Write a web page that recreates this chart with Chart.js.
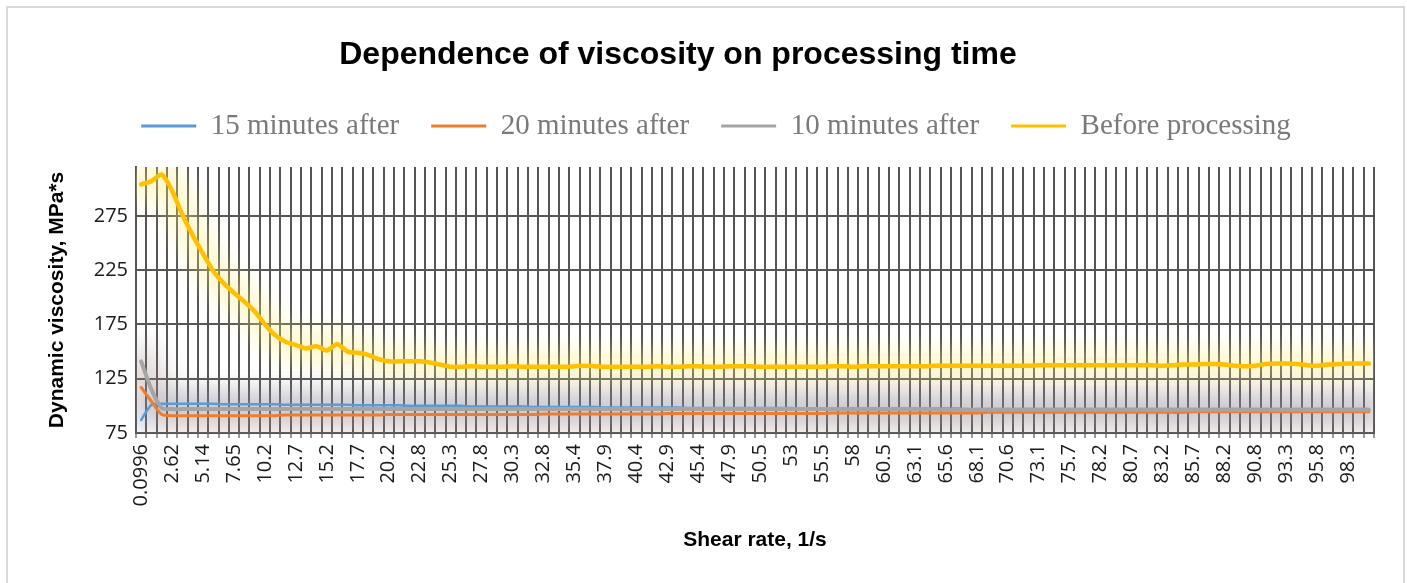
<!DOCTYPE html>
<html>
<head>
<meta charset="utf-8">
<title>Dependence of viscosity on processing time</title>
<script src="https://cdn.jsdelivr.net/npm/chart.js@4.4.1/dist/chart.umd.min.js"></script>
<style>
  html, body { margin: 0; padding: 0; width: 1407px; height: 583px; overflow: hidden; background: #fff; }
  #frame { position: absolute; left: 6px; top: 6px; width: 1395px; height: 640px; border: 2px solid #d9d9d9; }
  #wrap { position: absolute; left: 0; top: 0; width: 1407px; height: 583px; }
</style>
</head>
<body>
<div id="frame"></div>
<div id="wrap"><canvas id="chart" width="1407" height="583"></canvas></div>
<script>
// shear rate categories (only every third one is labelled on the axis)
const shearRate = [
  '0.0996', '0.939', '1.78', '2.62', '3.46', '4.3', '5.14', '5.98', '6.82', '7.65',
  '8.49', '9.33', '10.2', '11', '11.9', '12.7', '13.5', '14.4', '15.2', '16',
  '16.9', '17.7', '18.6', '19.4', '20.2', '21.1', '21.9', '22.8', '23.6', '24.4',
  '25.3', '26.1', '27', '27.8', '28.6', '29.5', '30.3', '31.2', '32', '32.8',
  '33.7', '34.5', '35.4', '36.2', '37', '37.9', '38.7', '39.6', '40.4', '41.2',
  '42.1', '42.9', '43.8', '44.6', '45.4', '46.3', '47.1', '47.9', '48.8', '49.6',
  '50.5', '51.3', '52.1', '53', '53.8', '54.7', '55.5', '56.3', '57.2', '58',
  '58.9', '59.7', '60.5', '61.4', '62.2', '63.1', '63.9', '64.7', '65.6', '66.4',
  '67.3', '68.1', '68.9', '69.8', '70.6', '71.5', '72.3', '73.1', '74', '74.8',
  '75.7', '76.5', '77.3', '78.2', '79', '79.9', '80.7', '81.5', '82.4', '83.2',
  '84.1', '84.9', '85.7', '86.6', '87.4', '88.2', '89.1', '89.9', '90.8', '91.6',
  '92.5', '93.3', '94.1', '95', '95.8', '96.7', '97.5', '98.3', '99.2', '100'
];

const min15 = [
  87, 101, 102, 102, 102, 102, 102, 102, 101.5, 101.5,
  101.5, 101.5, 101.5, 101.5, 101, 101, 101, 101, 101, 101,
  101, 100.5, 100.5, 100.5, 100.5, 100.5, 100, 100, 100, 100,
  100, 100, 99.5, 99.5, 99.5, 99.5, 99.5, 99.5, 99, 99,
  99, 99, 99, 99, 99, 98.5, 98.5, 98.5, 98.5, 98.5,
  98.5, 98.5, 98.5, 98, 98, 98, 98, 98, 98, 98,
  98, 98, 98, 98, 97.5, 97.5, 97.5, 97.5, 97.5, 97.5,
  97.5, 97.5, 97.5, 97.5, 97.5, 97.5, 97.5, 97.5, 97.5, 97.5,
  97, 97, 97, 97, 97, 97, 97, 97, 97, 97,
  97, 97, 97, 97, 97, 97, 97, 97, 97, 97,
  97, 97, 97, 97, 97, 97, 97, 97, 97, 97,
  97, 97, 97, 97, 97, 97, 97, 97, 97, 97
];

const min20 = [
  117, 104, 92, 91, 91, 91, 91, 91, 91, 91,
  91, 91, 91, 91, 91.5, 91.5, 91.5, 91.5, 91.5, 91.5,
  91.5, 91.5, 91.5, 91.5, 92, 92, 92, 92, 92, 92,
  92, 92, 92, 92, 92, 92, 92, 92, 92, 92.5,
  92.5, 92.5, 92.5, 92.5, 92.5, 92.5, 92.5, 92.5, 92.5, 92.5,
  92.5, 93, 93, 93, 93, 93, 93, 93, 93, 93,
  93, 93, 93, 93, 93, 93, 93, 93.5, 93.5, 93.5,
  93.5, 93.5, 93.5, 93.5, 93.5, 93.5, 93.5, 93.5, 93.5, 93.5,
  93.5, 93.5, 94, 94, 94, 94, 94, 94, 94, 94,
  94, 94, 94, 94, 94, 94, 94, 94, 94, 94,
  94, 94, 94.5, 94.5, 94.5, 94.5, 94.5, 94.5, 94.5, 94.5,
  94.5, 94.5, 94.5, 94.5, 94.5, 94.5, 94.5, 94.5, 94.5, 94.5
];

const min10 = [
  141, 115, 98, 97, 97, 97, 97, 97, 97, 97,
  97, 97, 97, 97, 97, 97, 97, 97, 97, 97,
  97, 97, 97, 97, 97, 97, 97, 97, 97, 97,
  97, 97, 97, 97, 97, 97, 97, 97, 97, 97,
  97, 97, 97, 97, 97, 97, 97, 97, 97, 97,
  97, 97, 97, 97, 97, 97, 97, 97, 97, 97,
  97, 97, 97, 97, 97, 97, 97, 97, 97, 97,
  97, 97, 97, 97, 97, 97, 97, 97, 96.5, 96.5,
  96.5, 96.5, 96.5, 96.5, 96.5, 96.5, 96.5, 96.5, 96.5, 96.5,
  96.5, 96.5, 96.5, 96.5, 96.5, 96.5, 96.5, 96.5, 96.5, 96.5,
  96.5, 96.5, 96.5, 96.5, 96.5, 96.5, 96.5, 96.5, 96.5, 96.5,
  96.5, 96.5, 96.5, 96.5, 96.5, 96.5, 96.5, 96.5, 96.5, 96.5
];

const beforeProc = [
  304, 307, 313, 298, 276, 257, 240, 224, 213, 204,
  196, 187, 175, 165, 159, 156, 153, 155, 151, 157,
  150, 149, 147, 143, 141, 141, 141, 141, 140, 138,
  136, 136, 136.5, 136, 136, 136, 136.5, 136, 136, 136,
  136, 136, 136.5, 137, 136.5, 136, 136, 136, 136, 136,
  136.5, 136, 136, 136.5, 136.5, 136, 136, 136.5, 136.5, 136.5,
  136, 136, 136, 136, 136, 136, 136, 136.5, 136.5, 136,
  136.5, 136.5, 136.5, 136.5, 136.5, 136.5, 136.5, 137, 137, 137,
  137, 137, 137, 137, 137, 137, 137, 137.5, 137.5, 137.5,
  137.5, 137.5, 137.5, 137.5, 137.5, 137.5, 137.5, 137.5, 137.5, 137,
  137.5, 138, 138, 138.5, 138.5, 138, 137, 136.5, 137, 138.5,
  139, 139, 138.5, 137.5, 137, 138, 138.5, 139, 139, 139
];

const yTicks = [75, 125, 175, 225, 275];

// soft Excel-like glow under each line
const glowPlugin = {
  id: 'glow',
  beforeDatasetsDraw(chart) {
    const ctx = chart.ctx;
    const a = chart.chartArea;
    chart.getSortedVisibleDatasetMetas().forEach(function(meta) {
      const ds = chart.data.datasets[meta.index];
      if (!ds.glowColor) return;
      ctx.save();
      ctx.beginPath();
      ctx.rect(a.left, a.top, a.right - a.left, a.bottom - a.top);
      ctx.clip();
      ctx.filter = 'blur(' + ds.glowBlur + 'px)';
      ctx.strokeStyle = ds.glowColor;
      ctx.lineWidth = ds.glowWidth;
      ctx.lineJoin = 'round';
      ctx.lineCap = 'round';
      ctx.beginPath();
      meta.dataset.path(ctx);
      ctx.stroke();
      ctx.restore();
    });
  }
};

// nudge title and legend sideways like in the original
const nudgePlugin = {
  id: 'nudge',
  afterLayout(chart) {
    chart.titleBlock.left -= 9;
    chart.titleBlock.right -= 9;
    chart.legend.left += 29;
    chart.legend.right += 29;
  }
};

const gridColor = '#555555';

new Chart(document.getElementById('chart'), {
  type: 'line',
  data: {
    labels: shearRate,
    datasets: [
      {
        label: '15 minutes after',
        data: min15,
        borderColor: '#5b9bd5',
        backgroundColor: '#5b9bd5',
        borderWidth: 2.5,
        order: 4,
        glowColor: 'rgba(91,155,213,0.18)',
        glowWidth: 26,
        glowBlur: 10
      },
      {
        label: '20 minutes after',
        data: min20,
        borderColor: '#ed7d31',
        backgroundColor: '#ed7d31',
        borderWidth: 3,
        order: 3,
        glowColor: 'rgba(220,150,130,0.18)',
        glowWidth: 30,
        glowBlur: 12
      },
      {
        label: '10 minutes after',
        data: min10,
        borderColor: '#a5a5a5',
        backgroundColor: '#a5a5a5',
        borderWidth: 4,
        order: 2,
        glowColor: 'rgba(150,125,125,0.30)',
        glowWidth: 34,
        glowBlur: 14
      },
      {
        label: 'Before processing',
        data: beforeProc,
        borderColor: '#ffc000',
        backgroundColor: '#ffc000',
        borderWidth: 4.5,
        order: 1,
        glowColor: 'rgba(255,236,120,0.38)',
        glowWidth: 30,
        glowBlur: 10
      }
    ]
  },
  options: {
    responsive: false,
    animation: false,
    elements: {
      point: { radius: 0 },
      line: { tension: 0.25, borderJoinStyle: 'round', borderCapStyle: 'round' }
    },
    layout: {
      padding: { left: 0, right: 33, top: 0, bottom: 0 }
    },
    plugins: {
      title: {
        display: true,
        text: 'Dependence of viscosity on processing time',
        color: '#000',
        font: { family: 'Liberation Sans', size: 32, weight: 'bold' },
        padding: { top: 36, bottom: 5.2 }
      },
      subtitle: {
        display: true,
        text: '',
        weight: 500,
        font: { size: 10 },
        padding: { top: 4.4, bottom: 0 }
      },
      legend: {
        display: true,
        position: 'top',
        labels: {
          color: '#7a7a7a',
          font: { family: 'Liberation Serif', size: 29 },
          boxWidth: 55,
          boxHeight: 3,
          padding: 32,
          sort: function(a, b) { return a.datasetIndex - b.datasetIndex; },
          generateLabels: function(chart) {
            return Chart.defaults.plugins.legend.labels.generateLabels(chart).map(function(l) {
              l.lineWidth = 0;
              return l;
            });
          }
        }
      },
      tooltip: { enabled: false }
    },
    scales: {
      x: {
        type: 'category',
        offset: true,
        grid: { offset: true, color: gridColor, lineWidth: 2, tickLength: 5, tickColor: '#9a9a9a' },
        border: { color: gridColor, width: 2 },
        ticks: {
          autoSkip: false,
          minRotation: 90,
          maxRotation: 90,
          color: '#1a1a1a',
          font: { family: 'Open Sans', size: 20 },
          padding: 6,
          callback: function(v, i) { return i % 3 === 0 ? this.getLabelForValue(v) : ''; }
        },
        title: {
          display: true,
          text: 'Shear rate, 1/s',
          color: '#000',
          font: { family: 'Liberation Sans', size: 21, weight: 'bold' },
          padding: { top: 0, bottom: 30.4 }
        },
        afterFit: function(scale) { scale.height = 150; }
      },
      y: {
        min: 75,
        max: 320,
        afterBuildTicks: function(scale) {
          scale.ticks = yTicks.map(function(v) { return { value: v }; });
        },
        grid: { color: gridColor, lineWidth: 2, drawTicks: false },
        border: { color: gridColor, width: 2 },
        ticks: {
          color: '#1a1a1a',
          font: { family: 'Open Sans', size: 20 },
          padding: 8
        },
        title: {
          display: true,
          text: 'Dynamic viscosity, MPa*s',
          color: '#000',
          font: { family: 'Liberation Sans', size: 21, weight: 'bold' },
          padding: { top: 44.4, bottom: 0 }
        },
        afterFit: function(scale) { scale.width = 136; }
      }
    }
  },
  plugins: [glowPlugin, nudgePlugin]
});
</script>
</body>
</html>
